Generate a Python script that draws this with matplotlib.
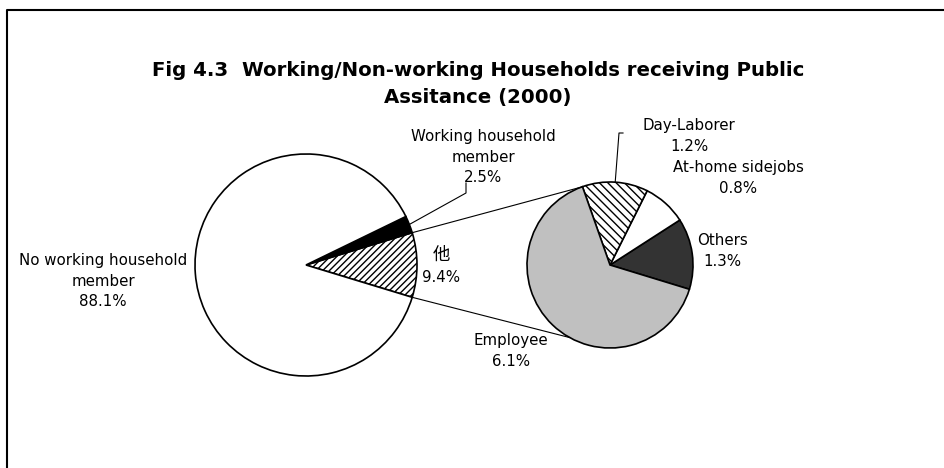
import numpy as np
import matplotlib
matplotlib.use('Agg')
import matplotlib.pyplot as plt
from matplotlib.lines import Line2D

plt.rcParams['font.family'] = ['DejaVu Sans', 'Noto Sans CJK JP']
plt.rcParams['hatch.linewidth'] = 1.0

# main pie: share of households (%)
main_labels = ['他', 'Working household\nmember', 'No working household\nmember']
main_values = [9.4, 2.5, 88.1]

# breakdown of the 他 slice (%)
sub_labels = ['Others', 'At-home sidejobs', 'Day-Laborer', 'Employee']
sub_values = [1.3, 0.8, 1.2, 6.1]

fig = plt.figure(figsize=(9.45, 4.68), dpi=100)
ax = fig.add_axes([0, 0, 1, 1])

W, H = 945, 468
c1, r1 = (306, 203), 111
c2, r2 = (610, 203), 83
edge = dict(edgecolor='black', linewidth=1.2)

start1 = -main_values[0] / sum(main_values) * 360 / 2
w1, _ = ax.pie(main_values, colors=['white', 'black', 'white'],
               hatch=['/////', None, None], startangle=start1,
               center=c1, radius=r1, wedgeprops=edge, frame=False)

w2, _ = ax.pie(sub_values, colors=['#333333', 'white', 'white', '#c0c0c0'],
               hatch=[None, None, '\\\\\\\\', None], startangle=-17,
               center=c2, radius=r2, wedgeprops=edge, frame=False)

ax.set_xlim(0, W)
ax.set_ylim(0, H)
ax.set_aspect('equal')
ax.axis('off')


def pt(c, r, ang):
    a = np.deg2rad(ang)
    return c[0] + r * np.cos(a), c[1] + r * np.sin(a)


# connector lines between the two pies
hx = w1[0]
p_top = pt(c1, r1, hx.theta2)
p_bot = pt(c1, r1, hx.theta1)
q_top = pt(c2, r2, 110)
q_bot = pt(c2, r2, 241)
ax.plot([p_top[0], q_top[0]], [p_top[1], q_top[1]], color='black', lw=0.8)
ax.plot([p_bot[0], q_bot[0]], [p_bot[1], q_bot[1]], color='black', lw=0.8)

fs = 10.8
ls = 1.5

def pct(v):
    return f'{v}%'

# labels for main pie
ax.text(103, 187, main_labels[2] + '\n' + pct(main_values[2]),
        ha='center', va='center', fontsize=fs, linespacing=ls)
ax.text(483, 311, main_labels[1] + '\n' + pct(main_values[1]),
        ha='center', va='center', fontsize=fs, linespacing=ls)
ax.text(441, 213, main_labels[0], ha='center', va='center', fontsize=12.5)
ax.text(441, 190, pct(main_values[0]), ha='center', va='center', fontsize=fs)

# leader for the black slice
b = w1[1]
s = pt(c1, r1, (b.theta1 + b.theta2) / 2)
ax.plot([s[0], 466, 466], [s[1], 275, 285], color='black', lw=0.8)

# labels for breakdown pie
ax.text(689, 332, sub_labels[2] + '\n' + pct(sub_values[2]),
        ha='center', va='center', fontsize=fs, linespacing=ls)
ax.text(738, 290, sub_labels[1] + '\n' + pct(sub_values[1]),
        ha='center', va='center', fontsize=fs, linespacing=ls)
ax.text(722, 217, sub_labels[0] + '\n' + pct(sub_values[0]),
        ha='center', va='center', fontsize=fs, linespacing=ls)
ax.text(511, 117, sub_labels[3] + '\n' + pct(sub_values[3]),
        ha='center', va='center', fontsize=fs, linespacing=ls)

d = w2[2]
s = pt(c2, r2, (d.theta1 + d.theta2) / 2)
ax.plot([s[0], 619, 623], [s[1], 335, 335], color='black', lw=0.8)

ax.text(478, 384, 'Fig 4.3  Working/Non-working Households receiving Public\nAssitance (2000)',
        ha='center', va='center', fontsize=14.2, fontweight='bold', linespacing=1.5)

# chart area border (left and top only visible)
fig.add_artist(Line2D([7 / W, 7 / W, 1], [0, 1 - 10 / H, 1 - 10 / H],
                      transform=fig.transFigure, color='black', lw=1.5))

fig.savefig('out.png', dpi=100, facecolor='white')
